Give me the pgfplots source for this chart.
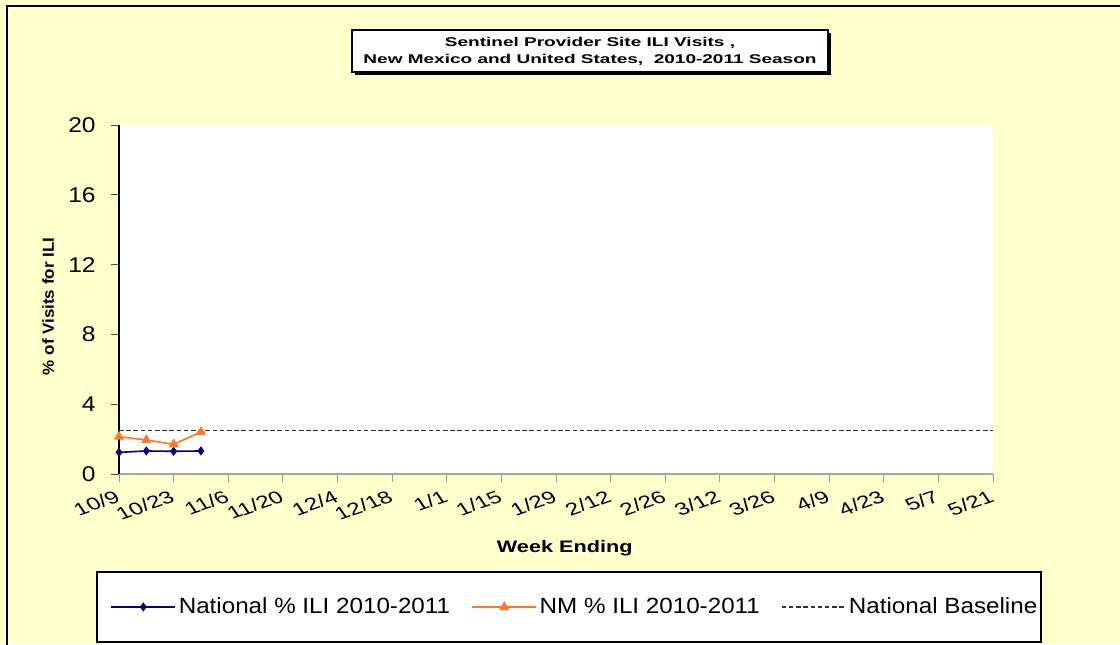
\documentclass[border=0pt]{standalone}
\usepackage{fontspec}
\setmainfont{Liberation Sans}
\newfontfamily\titlefont{Liberation Sans}[FakeStretch=1.5]
\newfontfamily\ytfont{Liberation Sans}[FakeStretch=1.15]
\newfontfamily\legfont{Liberation Sans}[FakeStretch=1.1]
\newfontfamily\xlabfont{Liberation Sans}[FakeStretch=1.3]
\newfontfamily\ylabfont{Liberation Sans}[FakeStretch=1.06]
\usepackage{pgfplots}
\pgfplotsset{compat=1.18}
\definecolor{bg}{HTML}{FFFFCC}
\definecolor{natblue}{HTML}{000080}
\definecolor{nmorange}{HTML}{FF7722}
\begin{document}
\begin{tikzpicture}
\path[use as bounding box, fill=bg] (0,0) rectangle (840pt,483pt);
\draw[black, line width=1.2pt] (5.25pt,-1pt) -- (5.25pt,478.5pt) -- (841pt,478.5pt);
% title box
\fill[black] (266.5pt,426.75pt) rectangle (623.5pt,458.25pt);
\draw[fill=white, line width=0.8pt] (264pt,429pt) rectangle (621pt,460.5pt);
\node[align=center, font=\titlefont\bfseries\fontsize{9.5}{12.75}\selectfont] at (442.5pt,444.75pt) {Sentinel Provider Site ILI Visits ,\\New Mexico and United States,\ \ 2010-2011 Season};
% legend box
\draw[fill=white, line width=0.8pt] (72.75pt,1.5pt) rectangle (780.75pt,54pt);
\begin{axis}[
  at={(89.25pt,127.5pt)}, anchor=south west,
  scale only axis, width=655.5pt, height=261.75pt,
  axis background/.style={fill=white},
  xmin=0, xmax=32, ymin=0, ymax=20,
  axis x line*=bottom, axis y line*=left,
  x axis line style={-, draw=gray!70, line width=0.8pt},
  y axis line style={-, draw=black, line width=0.8pt},
  tick align=outside, major tick length=6pt,
  xtick={0,2,...,32},
  xticklabels={10/9,10/23,11/6,11/20,12/4,12/18,1/1,1/15,1/29,2/12,2/26,3/12,3/26,4/9,4/23,5/7,5/21},
  ytick={0,4,8,12,16,20},
  xtick style={draw=gray!80, line width=0.6pt},
  ytick style={draw=black!70, line width=0.6pt},
  /pgf/number format/assume math mode=true,
  xticklabel style={font=\fontsize{13}{14}\selectfont, cm={1.258,0.438,-0.613,0.899,(0,0)}, anchor=north east, inner sep=1pt, yshift=-3pt, xshift=-4pt},
  yticklabel style={font=\ytfont\fontsize{16}{17}\selectfont, xshift=-8pt},
  xlabel={Week Ending},
  ylabel={\% of Visits for ILI},
  xlabel style={font=\xlabfont\bfseries\fontsize{12.5}{14}\selectfont, at={(axis description cs:0.51,-0.212)}, anchor=center},
  ylabel style={font=\ylabfont\bfseries\fontsize{12}{14}\selectfont, at={(axis description cs:-0.081,0.48)}, anchor=center, rotate=0},
  legend style={at={(axis description cs:0.522,-0.381)}, anchor=center, draw=none, fill=none,
    font=\legfont\fontsize{16.5}{18}\selectfont, legend columns=3,
    /tikz/every even column/.append style={column sep=14pt}},
  legend cell align=left,
  legend image code/.code={\draw[mark repeat=2,mark phase=2,#1] plot coordinates {(0pt,0pt) (24pt,0pt) (48pt,0pt)};},
  clip=false,
]
\addplot[natblue, line width=1.2pt, mark=diamond*, mark size=2.5pt, mark options={fill=natblue, draw=natblue}] coordinates {(0,1.24) (1,1.32) (2,1.30) (3,1.32)};
\addlegendentry{National \% ILI 2010-2011}
\addplot[nmorange, line width=1.2pt, mark=triangle*, mark size=3.2pt, mark options={fill=nmorange, draw=nmorange}] coordinates {(0,2.14) (1,1.95) (2,1.70) (3,2.41)};
\addlegendentry{NM \% ILI 2010-2011}
\addplot[black!80, line width=0.8pt, dash pattern=on 3.4pt off 2pt, mark=none] coordinates {(0,2.5) (32,2.5)};
\addlegendentry{National Baseline}
\end{axis}
\end{tikzpicture}
\end{document}
